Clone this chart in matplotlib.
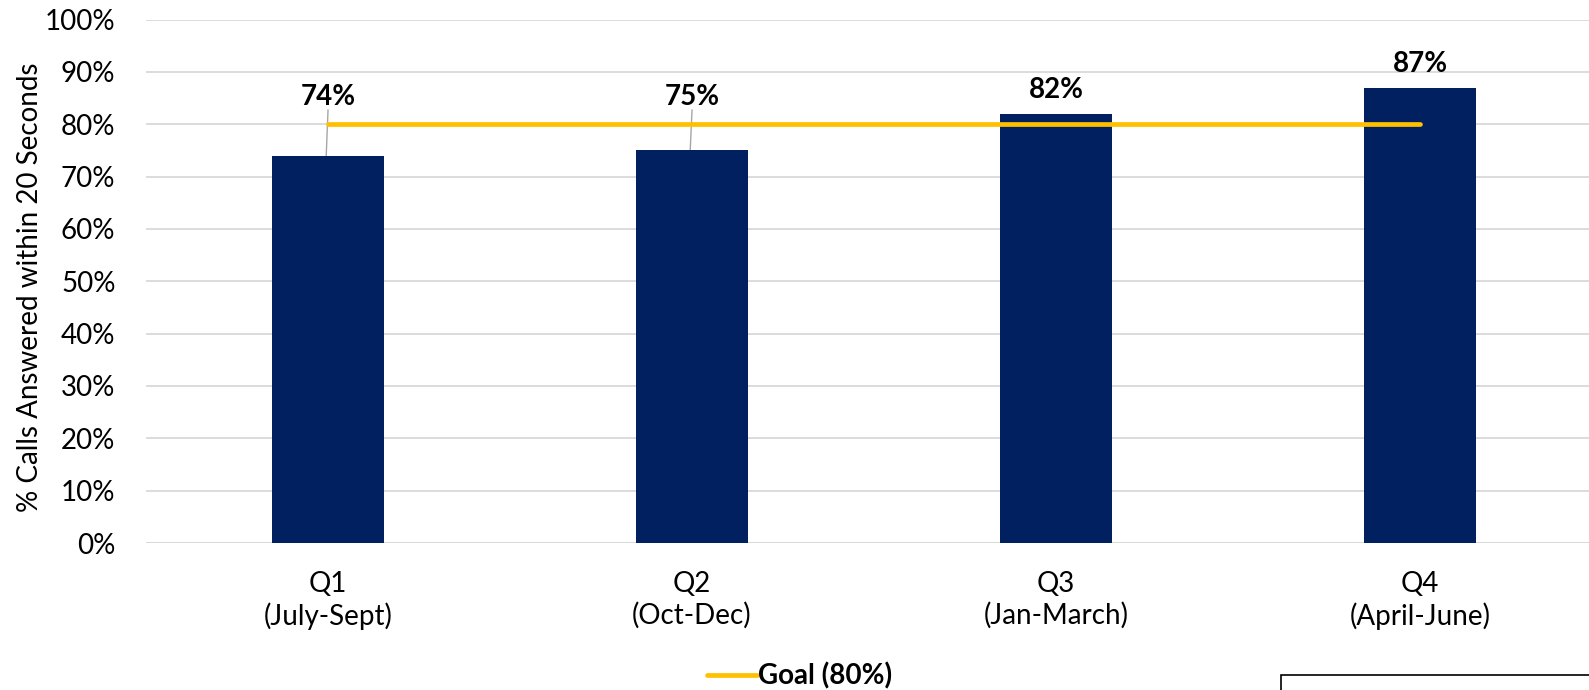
import matplotlib.pyplot as plt
from matplotlib.patches import Rectangle

# Data
quarters = ['Q1\n(July-Sept)', 'Q2\n(Oct-Dec)', 'Q3\n(Jan-March)', 'Q4\n(April-June)']
answered = [0.74, 0.75, 0.82, 0.87]
goal = [0.80, 0.80, 0.80, 0.80]
yticks = [0.0, 0.1, 0.2, 0.3, 0.4, 0.5, 0.6, 0.7, 0.8, 0.9, 1.0]

plt.rcParams['font.family'] = ['Lato', 'DejaVu Sans']

fig = plt.figure(figsize=(15.89, 6.9), dpi=100)
ax = fig.add_axes([0.0919, 0.213, 0.9163, 0.7587])

x = range(len(quarters))
ax.bar(x, answered, width=0.31, color='#002060', zorder=2)
goal_line, = ax.plot(x, goal, color='#FFC000', linewidth=3.4,
                     solid_capstyle='round', zorder=3, label='Goal (80%)')

# Data labels; the ones below the goal get lifted with a leader line
for i, v in enumerate(answered):
    if v < goal[i]:
        ax.plot([i - 0.005, i], [v, goal[i] + 0.027], color='#a6a6a6',
                linewidth=1.0, zorder=1)
        ax.text(i, goal[i] + 0.052, f'{v:.0%}', ha='center', va='center',
                fontsize=20, fontweight='bold')
    else:
        ax.annotate(f'{v:.0%}', (i, v), xytext=(0, 17), textcoords='offset points',
                    ha='center', va='center', fontsize=20, fontweight='bold')

ax.set_xlim(-0.5, 3.5)
ax.set_ylim(0, 1)
ax.set_yticks(yticks)
ax.set_yticklabels([f'{t:.0%}' for t in yticks])
ax.set_xticks(list(x))
ax.set_xticklabels(quarters, linespacing=1.25)
ax.tick_params(axis='y', length=0, labelsize=20, pad=22)
ax.tick_params(axis='x', length=0, labelsize=20, pad=20)
ax.grid(axis='y', color='#d9d9d9', linewidth=1.3, zorder=0)
for s in ax.spines.values():
    s.set_visible(False)
ax.axhline(0, color='#d9d9d9', linewidth=1.3, zorder=1)

fig.text(0.019, 0.583, '% Calls Answered within 20 Seconds', rotation=90,
         ha='center', va='center', fontsize=20)

fig.legend(handles=[goal_line], loc='center', bbox_to_anchor=(0.503, 0.02),
           frameon=False, handlelength=1.8, handletextpad=0.05,
           prop={'size': 20, 'weight': 'bold'})

fig.patches.append(Rectangle((1281 / 1589, -0.05), 0.3, 0.05 + 15 / 690,
                             transform=fig.transFigure, fill=False,
                             edgecolor='black', linewidth=1.2))

fig.savefig('out.png', dpi=100)
